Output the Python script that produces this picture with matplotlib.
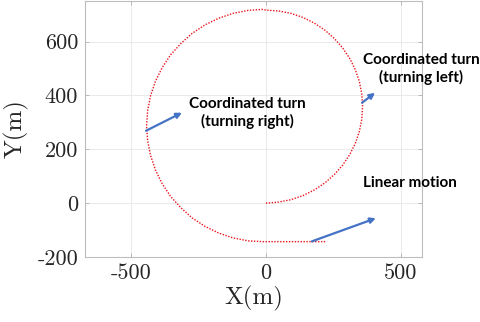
import matplotlib
matplotlib.use('Agg')
import matplotlib.pyplot as plt

# trajectory: inner arc from the origin, outer arc, straight leg
inner_x = [0, 47, 93, 137, 179, 218, 253, 284, 310, 331, 346, 355, 358,
           355, 346, 331, 310, 284, 253, 218, 179, 137, 93, 47, 0]
inner_y = [0, 4, 13, 28, 49, 75, 106, 141, 180, 222, 266, 312, 359,
           406, 452, 496, 538, 577, 612, 643, 669, 690, 705, 714, 717]
outer_x = [-10, -66, -122, -175, -226, -273, -315, -353, -384, -409, -427, -438, -442,
           -438, -427, -409, -384, -353, -315, -273, -226, -175, -122, -66, -10]
outer_y = [720, 716, 705, 687, 662, 631, 593, 551, 504, 453, 400, 344, 288,
           232, 176, 123, 72, 25, -17, -55, -86, -111, -129, -140, -143]
line_x = [220]
line_y = [-143]

x_ticks = [-500, 0, 500]
y_ticks = [-200, 0, 200, 400, 600]

# annotation labels and the arrows pointing at the curve (tail, head)
labels = ['Coordinated turn\n(turning right)',
          'Coordinated turn\n(turning left)',
          'Linear motion']
label_pos = [(247, 113), (421, 69), (410, 183)]   # figure pixels
arrow_tail = [(-444, 269), (356, 373), (170, -142)]
arrow_head = [(-311, 336), (404, 410), (407, -56)]

W, H = 480, 322
fig = plt.figure(figsize=(W / 100, H / 100), dpi=100)
ax = fig.add_axes([85 / W, 1 - 257 / H, (422 - 85) / W, (257 - 1) / H])

traj_x = inner_x + outer_x + line_x
traj_y = inner_y + outer_y + line_y
ax.plot(traj_x, traj_y, color='#e8141c', linestyle=(0, (1, 1.1)), linewidth=1.0)

ax.set_xlim(-670, 578)
ax.set_ylim(-200, 751)
ax.set_xticks(x_ticks)
ax.set_yticks(y_ticks)
ax.set_xticklabels([str(v) for v in x_ticks], fontfamily='cmr10', fontsize=16)
ax.set_yticklabels([str(v) for v in y_ticks], fontfamily='cmr10', fontsize=16)
ax.tick_params(direction='in', length=3, width=0.6, color='#b0b0b0',
               labelcolor='#262626', pad=5, top=True, right=True)
ax.grid(True, color='#e6e6e6', linewidth=0.6)
for s in ax.spines.values():
    s.set_color('#bdbdbd')
    s.set_linewidth(0.8)

ax.set_xlabel('X(m)', fontfamily='cmr10', fontsize=18, color='#262626', labelpad=2)
ax.set_ylabel('Y(m)', fontfamily='cmr10', fontsize=18, color='#262626', labelpad=6)

for tail, head in zip(arrow_tail, arrow_head):
    ax.annotate('', xy=head, xytext=tail,
                arrowprops=dict(arrowstyle='-|>', color='#4472c4', lw=1.6,
                                mutation_scale=8, shrinkA=0, shrinkB=0))

for txt, (px, py) in zip(labels, label_pos):
    fig.text(px / W, 1 - py / H, txt, ha='center', va='center',
             fontfamily='Lato', fontweight='bold', fontsize=11,
             linespacing=1.2, color='black')

fig.savefig('out.png', dpi=100)
